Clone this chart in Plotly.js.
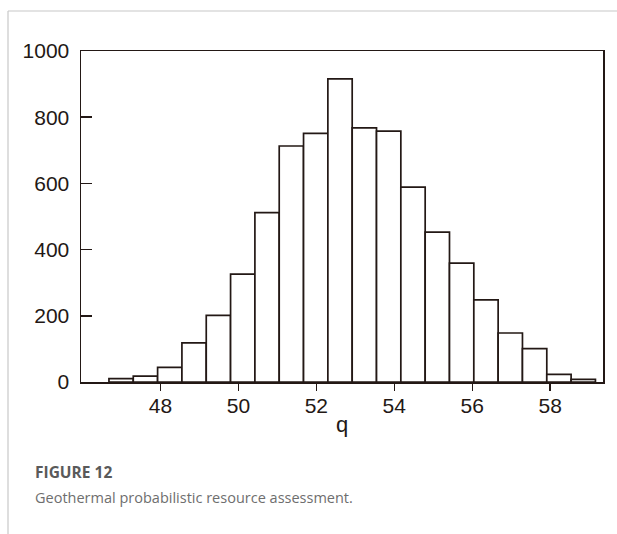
<!DOCTYPE html>
<html>
<head>
<meta charset="utf-8">
<script src="https://cdn.plot.ly/plotly-3.0.1.min.js"></script>
<style>
  html, body { margin: 0; padding: 0; background: #ffffff; }
  #chart { width: 617px; height: 534px; }
</style>
</head>
<body>
<div id="chart"></div>
<script>
// Histogram of simulated q values: bin centres and counts
const binWidth = 0.624;
const qCenters = [46.992, 47.616, 48.240, 48.864, 49.488, 50.112, 50.736, 51.360, 51.984, 52.608,
                  53.232, 53.856, 54.480, 55.104, 55.728, 56.352, 56.976, 57.600, 58.224, 58.848];
const counts = [10, 18, 44, 118, 201, 326, 512, 713, 751, 916,
                768, 758, 589, 453, 359, 248, 148, 101, 23, 8];

const xTicks = [48, 50, 52, 54, 56, 58];
const yTicks = [0, 200, 400, 600, 800, 1000];

const ink = '#231815';
const W = 617, H = 534;
const M = { l: 81, r: 14, t: 51, b: 152 };
const plotW = W - M.l - M.r, plotH = H - M.t - M.b;
// convert page pixels to paper coordinates
const px = x => (x - M.l) / plotW;
const py = y => (H - M.b - y) / plotH;

const trace = {
  type: 'bar',
  x: qCenters,
  y: counts,
  width: qCenters.map(() => binWidth),
  marker: { color: '#ffffff', line: { color: ink, width: 1.7 } },
  hoverinfo: 'x+y'
};

const layout = {
  width: W, height: H,
  margin: M,
  paper_bgcolor: '#ffffff',
  plot_bgcolor: '#ffffff',
  showlegend: false,
  bargap: 0,
  font: { family: '"Liberation Sans", Arial, sans-serif', color: ink, size: 21 },
  xaxis: {
    range: [45.963, 59.354],
    tickvals: xTicks,
    ticktext: xTicks.map(String),
    ticks: 'outside', ticklen: 7, tickwidth: 1.5, tickcolor: ink,
    ticklabelstandoff: -3,
    showline: true, linecolor: ink, linewidth: 1.5, mirror: true,
    showgrid: false, zeroline: false,
    tickfont: { size: 21, color: ink },
    title: { text: 'q', font: { size: 22, color: ink }, standoff: 1 }
  },
  yaxis: {
    range: [0, 1000],
    tickvals: yTicks,
    ticktext: yTicks.map(String),
    ticks: 'inside', ticklen: 11, tickwidth: 1.5, tickcolor: ink,
    ticklabelstandoff: 6,
    showline: true, linecolor: ink, linewidth: 1.5, mirror: true,
    showgrid: false, zeroline: false,
    tickfont: { size: 21, color: ink }
  },
  shapes: [
    { type: 'line', xref: 'paper', yref: 'paper', x0: px(8), x1: px(640), y0: py(11), y1: py(11),
      line: { color: '#c8c8c8', width: 1.2 } },
    { type: 'line', xref: 'paper', yref: 'paper', x0: px(8), x1: px(8), y0: py(11), y1: py(560),
      line: { color: '#c8c8c8', width: 1.2 } }
  ],
  annotations: [
    { xref: 'paper', yref: 'paper', x: px(33), y: py(472), xanchor: 'left', yanchor: 'middle',
      showarrow: false, text: '<b>FIGURE 12</b>',
      font: { family: '"Open Sans", sans-serif', size: 15.5, color: '#5a5a5a' } },
    { xref: 'paper', yref: 'paper', x: px(33), y: py(497), xanchor: 'left', yanchor: 'middle',
      showarrow: false, text: 'Geothermal probabilistic resource assessment.',
      font: { family: '"Open Sans", sans-serif', size: 14.5, color: '#6e6e6e' } }
  ]
};

Plotly.newPlot('chart', [trace], layout, { displayModeBar: false, staticPlot: true });
</script>
</body>
</html>
